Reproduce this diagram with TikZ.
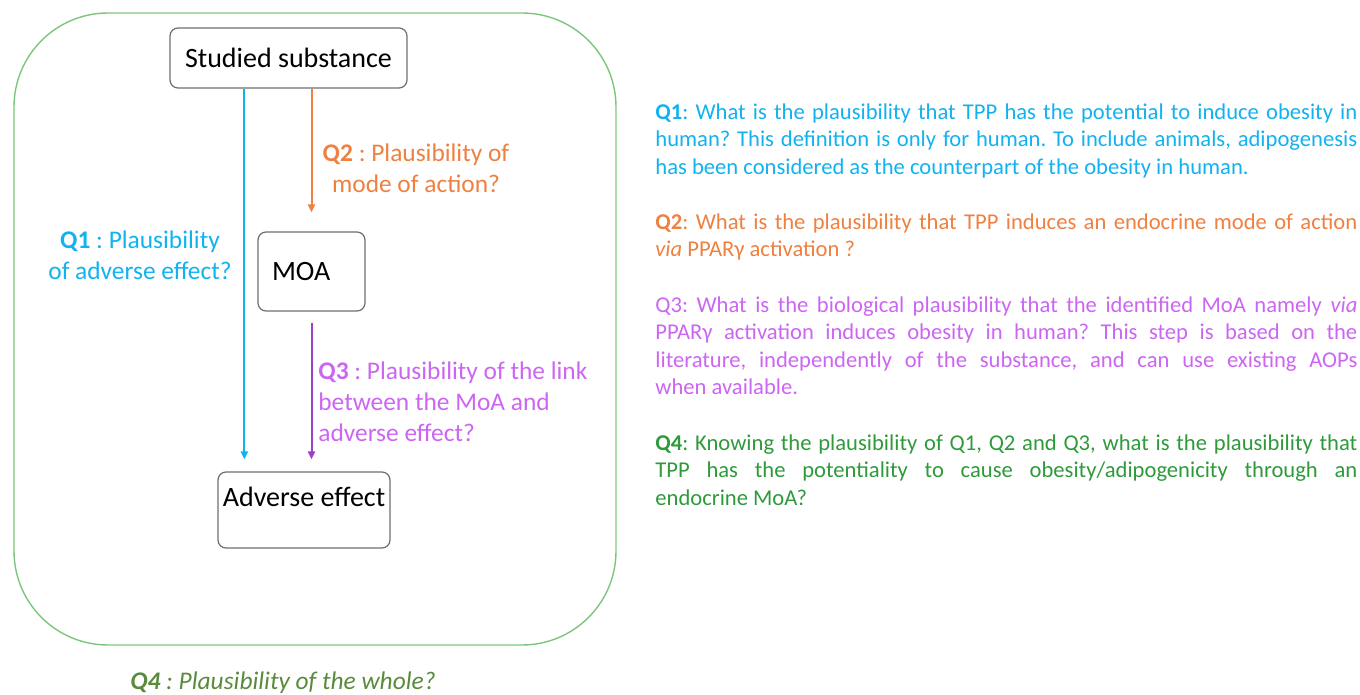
\documentclass[tikz,border=0pt]{standalone}
\usepackage{fontspec}
\setmainfont{Carlito}
\usetikzlibrary{arrows.meta}
\frenchspacing
\definecolor{qblue}{HTML}{12B2F0}
\definecolor{qorange}{HTML}{EE8040}
\definecolor{qpurple}{HTML}{9A40C8}
\definecolor{qlilac}{HTML}{CC66F2}
\definecolor{qgreen}{HTML}{2E9A3A}
\definecolor{qolive}{HTML}{5A8A3C}
\definecolor{framegreen}{HTML}{7CC67C}
\definecolor{boxgray}{HTML}{6E6E6E}

\begin{document}
\begin{tikzpicture}[x=0.5pt,y=-0.5pt,
  box/.style={draw=boxgray,rounded corners=4pt,line width=0.6pt,inner sep=0pt,
    font=\fontsize{14}{17}\selectfont},
  qlabel/.style={inner sep=0pt,font=\fontsize{12.7}{15.5}\selectfont},
  qtext/.style={inner sep=0pt,anchor=north west,text width=351pt,align=justify,
    font=\fontsize{11.3}{13.75}\selectfont},
  link/.style={line width=1pt,-{Triangle[length=4pt,width=3.5pt]}}]
\useasboundingbox (0,0) rectangle (1360,695);
% frame round the chain
\draw[framegreen,line width=0.7pt,rounded corners=47pt] (14,13) rectangle (616,645);
% boxes
\node[box,minimum width=118.5pt,text height=20pt,text depth=10pt] (sub) at (288.5,58) {Studied substance};
\node[box,minimum height=39.5pt,text width=39.5pt,inner xsep=7pt,align=left] (moa) at (311.5,271.5) {MOA};
\node[box,minimum width=86pt,text height=17pt,text depth=21pt] (adv) at (304,510) {Adverse effect};
% arrows
\draw[link,qblue] ([xshift=13.5pt]adv.north west |- sub.south) -- ([xshift=13.5pt,yshift=6pt]adv.north west);
\draw[link,qorange] (sub.south -| moa.north) -- ([yshift=9.5pt]moa.north);
\draw[link,qpurple] ([yshift=-5.5pt]moa.south) -- ([yshift=6pt]moa.south |- adv.north);
% labels
\node[qlabel,qblue,align=center] (q1lab) at (140,255) {\textbf{Q1} : Plausibility\\of adverse effect?};
\node[qlabel,qorange,align=center] (q2lab) at (416,168) {\textbf{Q2} : Plausibility of\\mode of action?};
\node[qlabel,qlilac,align=left,anchor=west] (q3lab) at (318,402) {\textbf{Q3} : Plausibility of the link\\between the MoA and\\adverse effect?};
\node[qlabel,qolive,font=\fontsize{12.7}{15.5}\selectfont\itshape] (q4lab) at (283,683) {\textbf{Q4} : Plausibility of the whole?};
% questions on the right
\node[qtext,qblue] (q1text) at (655,103) {\textbf{Q1}: What is the plausibility that TPP has the potential to induce obesity in\linebreak
  human? This definition is only for human. To include animals, adipogenesis\linebreak
  has been considered as the counterpart of the obesity in human.};
\node[qtext,qorange] (q2text) at (655,213) {\textbf{Q2}: What is the plausibility that TPP induces an endocrine mode of action\linebreak
  \emph{via} PPARγ activation ?};
\node[qtext,qlilac] (q3text) at (655,296) {Q3: What is the biological plausibility that the identified MoA namely \emph{via}\linebreak
  PPARγ activation induces obesity in human? This step is based on the\linebreak
  literature, independently of the substance, and can use existing AOPs\linebreak
  when available.};
\node[qtext,qgreen] (q4text) at (655,434) {\textbf{Q4}: Knowing the plausibility of Q1, Q2 and Q3, what is the plausibility that\linebreak
  TPP has the potentiality to cause obesity/adipogenicity through an\linebreak
  endocrine MoA?};
\end{tikzpicture}
\end{document}
